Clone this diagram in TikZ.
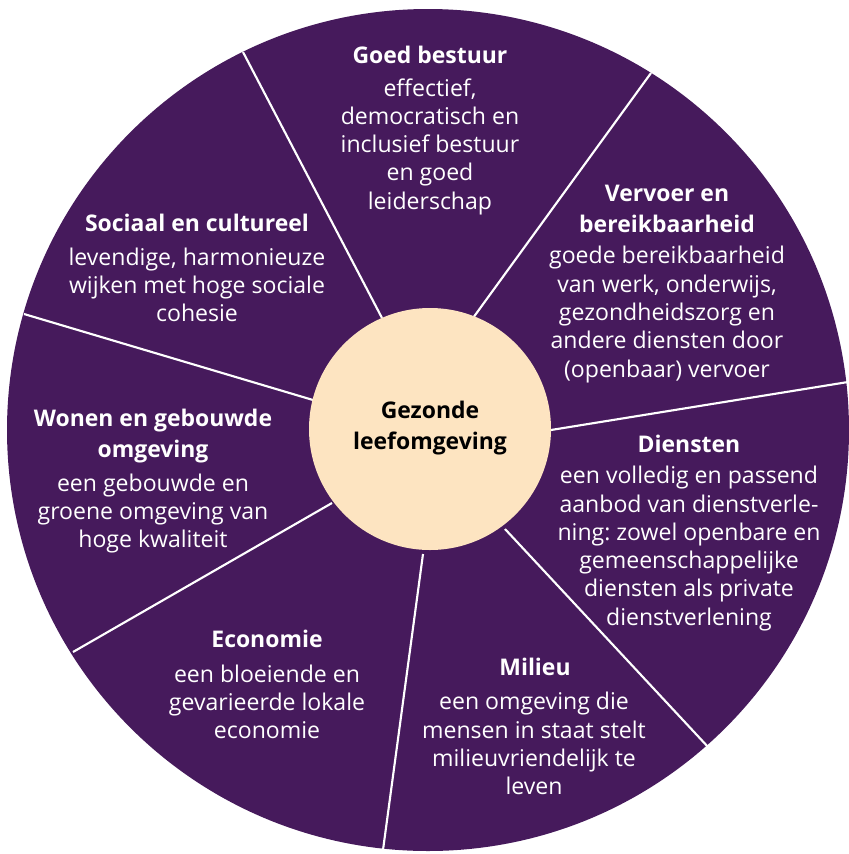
\documentclass[tikz,border=0pt]{standalone}
\usepackage{fontspec}
\setmainfont{Open Sans}
\frenchspacing
\definecolor{purp}{HTML}{461A5C}
\definecolor{peach}{HTML}{FDE4C1}
\begin{document}
\begin{tikzpicture}[x=0.75pt,y=-0.75pt,
  ttl/.style={font=\fontsize{17.2}{23.2}\selectfont\bfseries, text=white, align=center, inner sep=0pt},
  bodytext/.style={font=\fontsize{17.3}{21.2}\selectfont, text=white, align=center, inner sep=0pt},
  sepline/.style={draw=white, line width=1.6pt}]
\useasboundingbox (0,0) rectangle (849,854);
\node[circle, fill=purp, minimum size=631.5pt, inner sep=0pt] (outer) at (428,430) {};
% separator end points
\coordinate (o1) at (243,52);  \coordinate (i1) at (382,318);
\coordinate (o2) at (651,73);  \coordinate (i2) at (473,318);
\coordinate (o3) at (848,382); \coordinate (i3) at (551,430);
\coordinate (o4) at (709,748); \coordinate (i4) at (505,529);
\coordinate (o5) at (383,850); \coordinate (i5) at (423,554);
\coordinate (o6) at (73,652);  \coordinate (i6) at (332,503);
\coordinate (o7) at (24,314);  \coordinate (i7) at (313,400);
\foreach \k in {1,...,7} { \draw[sepline] (i\k) -- (o\k); }
\node[circle, fill=peach, minimum size=181.5pt, inner sep=0pt] (hub) at (430,429) {};
\node[ttl, text=black] (center) at (430,428) {Gezonde\\leefomgeving};
% Goed bestuur
\node[ttl] (t1) at (430,55) {Goed bestuur};
\node[bodytext] (b1) at (430,146.5) {effectief,\\democratisch en\\inclusief bestuur\\en goed\\leiderschap};
% Vervoer
\node[ttl] (t2) at (667,208.5) {Vervoer en\\bereikbaarheid};
\node[bodytext] (b2) at (667,314.5) {goede bereikbaarheid\\van werk, onderwijs,\\gezondheidszorg en\\andere diensten door\\(openbaar) vervoer};
% Diensten
\node[ttl] (t3) at (689,444) {Diensten};
\node[bodytext] (b3) at (689,548.5) {een volledig en passend\\aanbod van dienstverle-\\ning: zowel openbare en\\gemeenschappelijke\\diensten als private\\dienstverlening};
% Milieu
\node[ttl] (t4) at (535,667) {Milieu};
\node[bodytext] (b4) at (534,743.5) {een omgeving die\\mensen in staat stelt\\milieuvriendelijk te\\leven};
% Economie
\node[ttl] (t5) at (267,639) {Economie};
\node[bodytext] (b5) at (267,702) {een bloeiende en\\gevarieerde lokale\\economie};
% Wonen
\node[ttl] (t6) at (153,436) {Wonen en gebouwde\\omgeving};
\node[bodytext] (b6) at (153,513.5) {een gebouwde en\\groene omgeving van\\hoge kwaliteit};
% Sociaal
\node[ttl] (t7) at (197,223) {Sociaal en cultureel};
\node[bodytext] (b7) at (197,285) {levendige, harmonieuze\\wijken met hoge sociale\\cohesie};
\end{tikzpicture}
\end{document}
